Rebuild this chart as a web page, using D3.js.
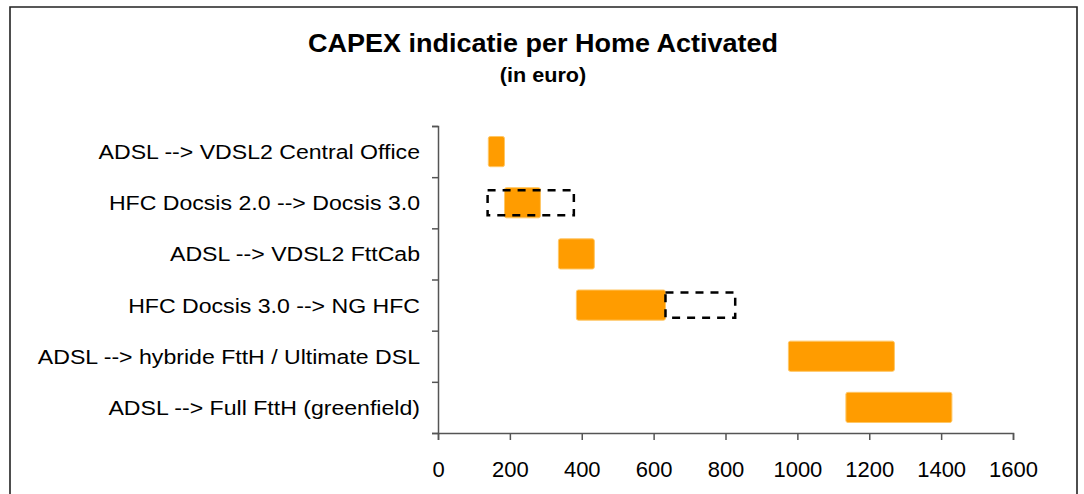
<!DOCTYPE html>
<html>
<head>
<meta charset="utf-8">
<script src="https://cdn.jsdelivr.net/npm/d3@7"></script>
<style>
  body { margin: 0; background: #fff; }
  text { font-family: Arial, "Liberation Sans", sans-serif; fill: #000; }
</style>
</head>
<body>
<div id="chart"></div>
<script>
const categories = [
    'ADSL --> VDSL2 Central Office',
    'HFC Docsis 2.0 --> Docsis 3.0',
    'ADSL --> VDSL2 FttCab',
    'HFC Docsis 3.0 --> NG HFC',
    'ADSL --> hybride FttH / Ultimate DSL',
    'ADSL --> Full FttH (greenfield)'
]
// orange bar: from .. to
const barLow = [140, 185, 335, 385, 975, 1135]
const barHigh = [185, 285, 435, 633, 1270, 1430]
// dashed range (uncertainty), null where none
const dashLow = [null, 138, null, 633, null, null]
const dashHigh = [null, 378, null, 827, null, null]
const xTicks = [0, 200, 400, 600, 800, 1000, 1200, 1400, 1600]

const width = 1084
const height = 494

const svg = d3.select('#chart').append('svg')
              .attr('width', width)
              .attr('height', height)

// frame
svg.append('path')
   .attr('d', `M10,${height + 2}V7H1077V${height + 2}`)
   .attr('fill', 'none')
   .attr('stroke', '#222')
   .attr('stroke-width', 1.6)

// text in the original looks a bit wider than Arial, so stretch it horizontally
function wideText(sel, x, y, size, sx) {
    return sel.append('text')
              .attr('transform', `translate(${x},${y}) scale(${sx},1)`)
              .style('font-size', size + 'px')
}

wideText(svg, 543, 52, 25, 1.08)
   .attr('text-anchor', 'middle')
   .style('font-weight', 'bold')
   .text('CAPEX indicatie per Home Activated')

wideText(svg, 543, 82, 20, 1.08)
   .attr('text-anchor', 'middle')
   .style('font-weight', 'bold')
   .text('(in euro)')

const x = d3.scaleLinear().domain([0, 1600]).range([438, 1013])
const y = d3.scaleBand().domain(categories).range([126, 433])
            .paddingInner(0.41).paddingOuter(0.205)
const yEdge = d3.scaleLinear().domain([0, categories.length]).range([126, 433])

const data = categories.map((c, i) => ({
    cat: c, lo: barLow[i], hi: barHigh[i], dlo: dashLow[i], dhi: dashHigh[i]
}))

// axes
const xAxis = svg.append('g')
                 .attr('transform', 'translate(0,433)')
                 .call(d3.axisBottom(x)
                         .tickValues(xTicks)
                         .tickFormat(d3.format('d'))
                         .tickSize(7)
                         .tickPadding(21))
xAxis.selectAll('text').style('font-size', '22px')

const yAxis = svg.append('g')
                 .attr('transform', 'translate(438,0)')
                 .call(d3.axisLeft(yEdge).ticks(categories.length).tickSize(6).tickFormat(''))

svg.selectAll('.domain, .tick line')
   .attr('stroke', '#555')
   .attr('stroke-width', 1.5)

data.forEach(d => {
    wideText(svg, 420, y(d.cat) + y.bandwidth() / 2, 21, 1.1)
       .attr('class', 'cat-label')
       .attr('dy', '0.36em')
       .attr('text-anchor', 'end')
       .text(d.cat)
})

// bars
svg.selectAll('.bar')
   .data(data)
   .enter().append('rect')
   .attr('class', 'bar')
   .attr('x', d => x(d.lo))
   .attr('y', d => y(d.cat))
   .attr('width', d => x(d.hi) - x(d.lo))
   .attr('height', y.bandwidth())
   .attr('rx', 2)
   .attr('fill', '#ff9c00')
   .attr('stroke', '#ffc766')
   .attr('stroke-width', 1)

const inset = 2.5
svg.selectAll('.range')
   .data(data.filter(d => d.dlo != null))
   .enter().append('rect')
   .attr('class', 'range')
   .attr('x', d => x(d.dlo))
   .attr('y', d => y(d.cat) + inset)
   .attr('width', d => x(d.dhi) - x(d.dlo))
   .attr('height', y.bandwidth() - 2 * inset)
   .attr('fill', 'none')
   .attr('stroke', '#000')
   .attr('stroke-width', 2.5)
   .attr('stroke-dasharray', '8,7')
</script>
</body>
</html>
